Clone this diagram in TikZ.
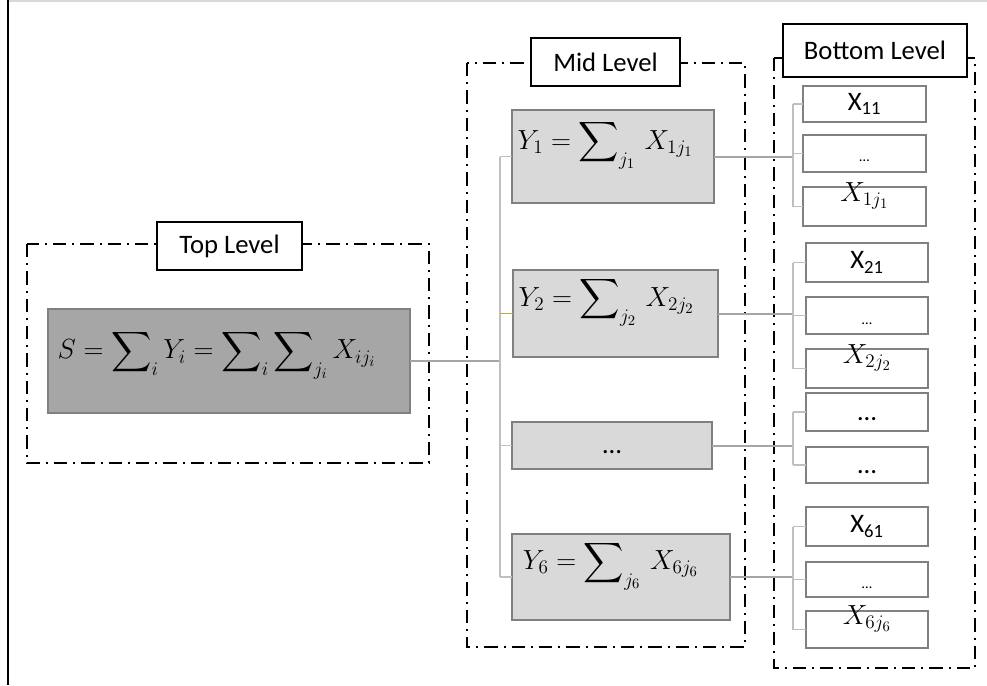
\documentclass[tikz,border=0pt]{standalone}
\usepackage{amsmath, amssymb}
\usepackage{fontspec}
\setmainfont{Carlito}
\usepackage{tikz}

\definecolor{tickline}{RGB}{204,163,68}

\begin{document}
\begin{tikzpicture}[x = .75pt, y = -.75pt,
        dims/.style 2 args = {minimum width = #1*.75pt, minimum height = #2*.75pt, inner sep = 0pt, outer sep = 0pt},
        frame/.style = {draw, line width = 1.4pt, dash pattern = on 10pt off 4.5pt on 1.5pt off 4.5pt},
        tag/.style = {draw, fill = white, line width = 1.4pt, font = \fontsize{20}{23}\selectfont},
        topbox/.style = {draw = gray, fill = black!35, line width = 1.2pt},
        midbox/.style = {draw = gray, fill = black!15, line width = 1.2pt, font = \fontsize{20}{23}\selectfont},
        leaf/.style = {draw = gray, fill = white, line width = 1.2pt, font = \fontsize{20}{23}\selectfont},
        eq/.style = {anchor = west, inner sep = 0pt, font = \fontsize{21}{25}\selectfont},
        wire/.style = {draw = black!35, line width = 1.5pt},
        twig/.style = {draw = black!25, line width = 1.1pt}]
        \useasboundingbox (0,0) rectangle (987,685);
        \draw[black!15, line width = 1.2pt] (8,1) -- (987,1);
        \draw[line width = 1.5pt] (7.5,0) -- (7.5,685);

        \draw[frame] (27,244) rectangle (429,463);
        \draw[frame] (467,63) rectangle (745,647);
        \draw[frame] (774,58) rectangle (975,668);

        \node[tag, dims = {145}{48}] (toptag) at (229.5,246) {Top Level};
        \node[tag, dims = {149}{48}] (midtag) at (605.5,62) {Mid Level};
        \node[tag, dims = {184}{53}] (bottag) at (875,50.5) {Bottom Level};

        \node[topbox, dims = {362}{104}] (s) at (229,361) {};
        \node[eq] (stxt) at ([xshift = 7pt, yshift = 5pt] s.west)
            {$S = \displaystyle\sum\nolimits_i Y_i = \sum\nolimits_i \sum\nolimits_{j_i} X_{i j_i}$};

        \node[midbox, dims = {202}{93}] (y1) at (613,156.5) {};
        \node[midbox, dims = {205}{87}] (y2) at (615.5,313.5) {};
        \node[midbox, dims = {200}{47}] (yd) at (612,445.5) {\vphantom{X}\dots};
        \node[midbox, dims = {218}{86}] (y6) at (621,577) {};
        \node[eq] (y1txt) at ([xshift = 4pt, yshift = 9pt] y1.west)
            {$Y_1 = \displaystyle\sum\nolimits_{j_1}\, X_{1 j_1}$};
        \node[eq] (y2txt) at ([xshift = 4pt, yshift = 9pt] y2.west)
            {$Y_2 = \displaystyle\sum\nolimits_{j_2}\, X_{2 j_2}$};
        \node[eq] (y6txt) at ([xshift = 8pt, yshift = 9pt] y6.west)
            {$Y_6 = \displaystyle\sum\nolimits_{j_6}\, X_{6 j_6}$};

        \node[leaf, dims = {123}{36}] (x11) at (864.5,104) {X\textsubscript{11}};
        \node[leaf, dims = {123}{37}] (d1) at (864.5,153.5) {\vphantom{X}{\fontsize{11}{13}\selectfont\dots}};
        \node[leaf, dims = {123}{39}] (x1j) at (864.5,206.5) {};
        \node[leaf, dims = {122}{39}] (x21) at (867,262.5) {X\textsubscript{21}};
        \node[leaf, dims = {122}{37}] (d2) at (867,315.5) {\vphantom{X}{\fontsize{11}{13}\selectfont\dots}};
        \node[leaf, dims = {122}{39}] (x2j) at (867,368.5) {};
        \node[leaf, dims = {122}{38}] (d3a) at (867,412) {\vphantom{X}\dots};
        \node[leaf, dims = {122}{36}] (d3b) at (867,465) {\vphantom{X}\dots};
        \node[leaf, dims = {122}{39}] (x61) at (867,526.5) {X\textsubscript{61}};
        \node[leaf, dims = {122}{35}] (d4) at (867,579.5) {\vphantom{X}{\fontsize{11}{13}\selectfont\dots}};
        \node[leaf, dims = {122}{37}] (x6j) at (867,629.5) {};
        \node[inner sep = 0pt, font = \fontsize{21}{25}\selectfont] (x1jtxt) at ([yshift = 8pt] x1j) {$X_{1 j_1}$};
        \node[inner sep = 0pt, font = \fontsize{21}{25}\selectfont] (x2jtxt) at ([yshift = 8pt] x2j) {$X_{2 j_2}$};
        \node[inner sep = 0pt, font = \fontsize{21}{25}\selectfont] (x6jtxt) at ([yshift = 8pt] x6j) {$X_{6 j_6}$};

        \coordinate (midbus) at (500,0);
        \coordinate (botbus) at (793,0);

        \draw[wire] (s.east) -- (s.east -| midbus);
        \draw[twig] (y1.west -| midbus) -- (y6.west -| midbus);
        \foreach \n in {y1, yd, y6}
            \draw[twig] (\n.west -| midbus) -- (\n.west);
        \draw[twig, draw = tickline] (y2.west -| midbus) -- (y2.west);

        \foreach \n in {y1, y2, yd, y6}
            \draw[wire] (\n.east) -- (\n.east -| botbus);

        \draw[twig] (x11.west -| botbus) -- (x1j.west -| botbus);
        \draw[twig] (x21.west -| botbus) -- (x2j.west -| botbus);
        \draw[twig] (d3a.west -| botbus) -- (d3b.west -| botbus);
        \draw[twig] (x61.west -| botbus) -- (x6j.west -| botbus);
        \foreach \n in {x11, d1, x1j, x21, d2, x2j, d3a, d3b, x61, d4, x6j}
            \draw[twig] (\n.west -| botbus) -- (\n.west);
\end{tikzpicture}
\end{document}
